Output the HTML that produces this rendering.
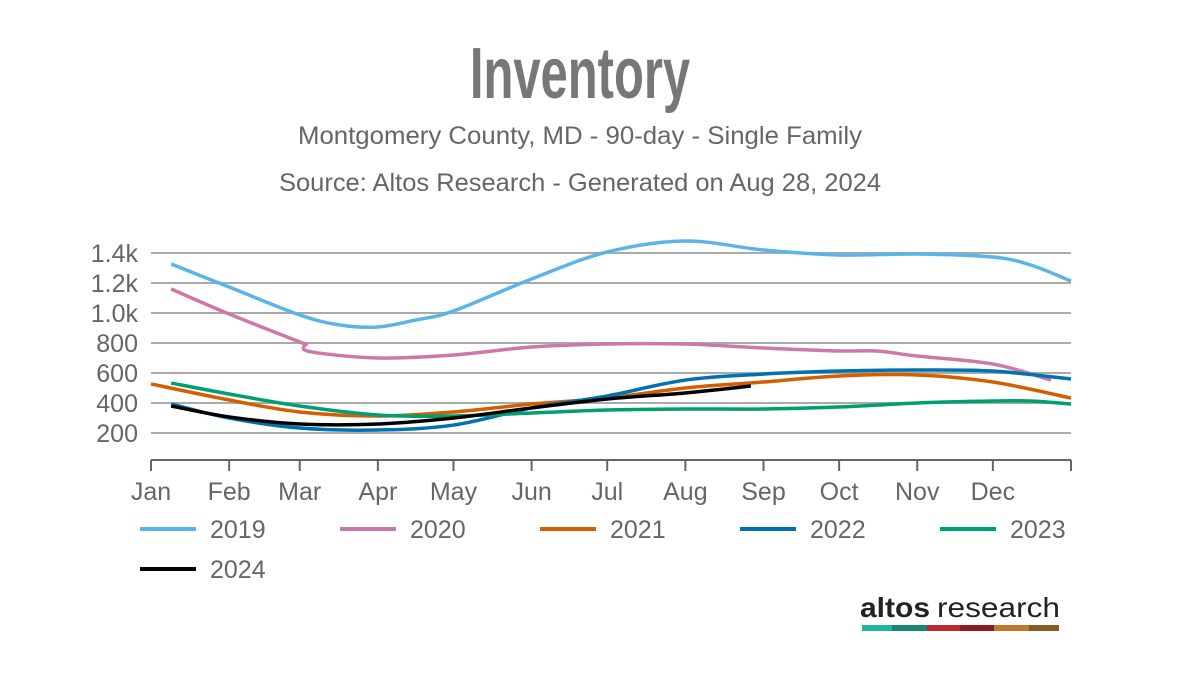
<!DOCTYPE html>
<html><head><meta charset="utf-8">
<style>
body{margin:0;background:#fff;}
svg{display:block;font-family:"Liberation Sans Narrow","Liberation Sans",sans-serif;}
</style></head>
<body>
<svg id="chart" width="1200" height="676" viewBox="0 0 1200 676">
<text x="580" y="98" text-anchor="middle" font-size="72" font-weight="bold" fill="#777" transform="translate(580 0) scale(0.68 1) translate(-580 0)">Inventory</text>
<text x="580" y="144" text-anchor="middle" font-size="25" fill="#666" textLength="564" lengthAdjust="spacingAndGlyphs">Montgomery County, MD - 90-day - Single Family</text>
<text x="580" y="191" text-anchor="middle" font-size="25" fill="#666" textLength="602" lengthAdjust="spacingAndGlyphs">Source: Altos Research - Generated on Aug 28, 2024</text>
<g id="grid"></g>
<g id="series"></g>
<g id="legend"></g>
<g>
<text x="860" y="617" font-family="Liberation Sans,sans-serif" font-size="28" fill="#222" font-weight="bold" textLength="70" lengthAdjust="spacingAndGlyphs">altos</text>
<text x="937" y="617" font-family="Liberation Sans,sans-serif" font-size="28" fill="#222" textLength="123" lengthAdjust="spacingAndGlyphs">research</text>
<rect x="862" y="625" width="30" height="6" fill="#21b3a1"/>
<rect x="892" y="625" width="35" height="6" fill="#1b8676"/>
<rect x="927" y="625" width="33" height="6" fill="#c1272f"/>
<rect x="960" y="625" width="34" height="6" fill="#8a1a23"/>
<rect x="994" y="625" width="35" height="6" fill="#be7b2b"/>
<rect x="1029" y="625" width="30" height="6" fill="#8a5a25"/>
</g>
</svg>
<script>
const monthLabels=["Jan","Feb","Mar","Apr","May","Jun","Jul","Aug","Sep","Oct","Nov","Dec"];
const monthStarts=[0,31,59,90,120,151,181,212,243,273,304,334,365];
const yTicks=[200,400,600,800,1000,1200,1400];
const yTickLabels=["200","400","600","800","1.0k","1.2k","1.4k"];
const seriesNames=["2019","2020","2021","2022","2023","2024"];
const seriesColors=["#5ab4e8","#cc79a7","#d55e00","#0072b2","#009e73","#000000"];
const days2019=[8,31,59,75,90,105,120,151,181,212,243,273,304,334,349,365];
const vals2019=[1327,1173,987,920,907,953,1013,1227,1407,1480,1420,1387,1393,1373,1320,1213];
const days2020=[8,31,59,61,63,90,120,151,181,212,243,273,288,304,334,357];
const vals2020=[1160,993,807,793,743,700,720,773,793,793,767,747,747,713,660,553];
const days2021=[0,31,59,90,120,151,181,212,243,273,304,334,365];
const vals2021=[527,420,340,313,340,393,433,500,540,580,587,540,433];
const days2022=[8,31,59,90,120,151,181,212,243,273,304,334,365];
const vals2022=[393,300,233,220,253,367,447,553,593,613,620,613,560];
const days2023=[8,31,59,90,120,151,181,212,243,273,304,334,349,365];
const vals2023=[533,460,380,320,313,333,353,360,360,373,400,413,413,393];
const days2024=[8,31,59,90,120,151,181,212,238];
const vals2024=[380,307,260,260,300,367,427,467,513];
const allDays=[days2019,days2020,days2021,days2022,days2023,days2024];
const allVals=[vals2019,vals2020,vals2021,vals2022,vals2023,vals2024];

const NS="http://www.w3.org/2000/svg";
const x0=151,x1=1071,yZero=463,pxPerUnit=0.15;
function xScale(d){return x0+d*(x1-x0)/365;}
function yScale(v){return yZero-v*pxPerUnit;}
function mk(tag,attrs,parent){const e=document.createElementNS(NS,tag);for(const k in attrs)e.setAttribute(k,attrs[k]);parent.appendChild(e);return e;}
const grid=document.getElementById('grid');
yTicks.forEach((t,i)=>{
  const l=mk('line',{x1:x0,x2:x1,y1:yScale(t),y2:yScale(t),stroke:'#aaa','stroke-width':2},grid);
  
  
  const tx=mk('text',{x:138,y:yScale(t)+9,'text-anchor':'end','font-size':25,fill:'#666'},grid);
  tx.textContent=yTickLabels[i];
  
  
});
const ax=mk('line',{x1:x0,x2:x1,y1:460,y2:460,stroke:'#666','stroke-width':2},grid);


monthStarts.forEach((d,i)=>{
  const tk=mk('line',{x1:xScale(d),x2:xScale(d),y1:460,y2:471,stroke:'#666','stroke-width':2},grid);
  
  
  if(i<12){
    const tx=mk('text',{x:xScale(d),y:500,'text-anchor':'middle','font-size':25,fill:'#666'},grid);
    tx.textContent=monthLabels[i];
    
    
  }
});
function pathFor(ds,vs){
  const p=ds.map((d,i)=>[xScale(d),yScale(vs[i])]);
  let s='M'+p[0][0]+','+p[0][1];
  for(let i=0;i<p.length-1;i++){
    const a=p[i-1]||p[i],b=p[i],c=p[i+1],e=p[i+2]||c;
    const c1x=b[0]+(c[0]-a[0])/6,c1y=b[1]+(c[1]-a[1])/6;
    const c2x=c[0]-(e[0]-b[0])/6,c2y=c[1]-(e[1]-b[1])/6;
    s+=' C'+c1x+','+c1y+' '+c2x+','+c2y+' '+c[0]+','+c[1];
  }
  return s;
}
const sg=document.getElementById('series');
allDays.forEach((ds,i)=>{
  const p=mk('path',{d:pathFor(ds,allVals[i]),fill:'none',stroke:seriesColors[i],'stroke-width':3.5,'stroke-linejoin':'round'},sg);
  
  
});
const lg=document.getElementById('legend');
const legX=[140,340,540,740,940,140],legY=[529,529,529,529,529,569];
seriesNames.forEach((n,i)=>{
  const g=mk('g',{},lg);
  
  
  mk('line',{x1:legX[i],x2:legX[i]+56,y1:legY[i],y2:legY[i],stroke:seriesColors[i],'stroke-width':4},g);
  const t=mk('text',{x:legX[i]+70,y:legY[i]+9,'font-size':25,fill:'#666'},g);
  t.textContent=n;
});
</script>
</body></html>
